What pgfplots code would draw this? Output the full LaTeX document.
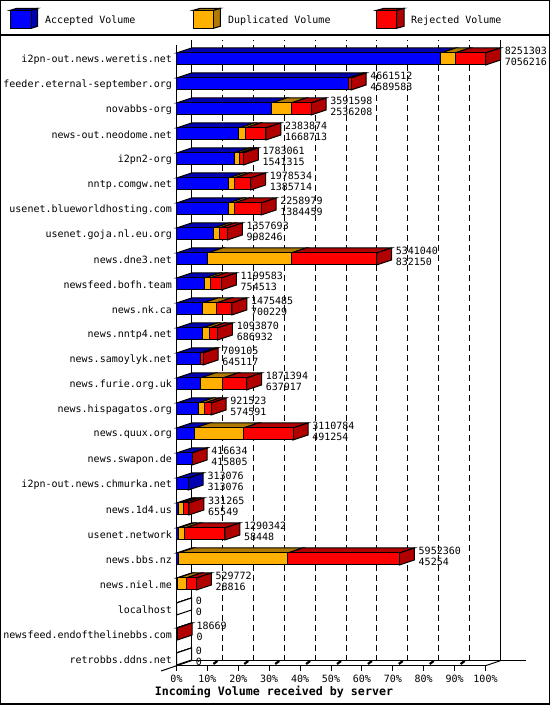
\documentclass[border=0pt]{standalone}
\usepackage{fontspec}
\setmainfont{DejaVu Sans Mono}
\usepackage{pgfplots}
\usepackage{pgfplotstable}
\pgfplotsset{compat=1.18}

\definecolor{blueA}{HTML}{0000FF}
\definecolor{blueB}{HTML}{0000B0}
\definecolor{orangeA}{HTML}{FFB000}
\definecolor{orangeB}{HTML}{B07A00}
\definecolor{redA}{HTML}{FF0000}
\definecolor{redB}{HTML}{B00000}

% duplicated is read off the picture, the other columns are printed in it
\pgfplotstableread{
row name total accepted duplicated rejected
24 i2pn-out.news.weretis.net 8251303 7056216 382000 813087
23 feeder.eternal-september.org 4661512 4589583 0 71929
22 novabbs-org 3591598 2536208 526000 529390
21 news-out.neodome.net 2383874 1668713 166000 549161
20 i2pn2-org 1783061 1541315 141000 100746
19 nntp.comgw.net 1978534 1385714 155000 437820
18 usenet.blueworldhosting.com 2258979 1384459 155000 719520
17 usenet.goja.nl.eu.org 1357693 998246 150000 209447
16 news.dne3.net 5341040 832150 2232000 2276890
15 newsfeed.bofh.team 1199583 754513 150000 295070
14 news.nk.ca 1475485 700229 363000 412256
13 news.nntp4.net 1093870 686932 187000 219938
12 news.samoylyk.net 709105 645117 0 63988
11 news.furie.org.uk 1871394 637917 603000 630477
10 news.hispagatos.org 921523 574591 176000 170932
9 news.quux.org 3110784 491254 1298000 1321530
8 news.swapon.de 416634 415805 0 829
7 i2pn-out.news.chmurka.net 313076 313076 0 0
6 news.1d4.us 331265 65549 117000 148716
5 usenet.network 1290342 58448 168000 1063894
4 news.bbs.nz 5952360 45254 2927000 2980106
3 news.niel.me 529772 28816 232000 268956
2 localhost 0 0 0 0
1 newsfeed.endofthelinebbs.com 18669 0 0 18669
0 retrobbs.ddns.net 0 0 0 0
}\barstable

\pgfplotsset{
  chartaxis/.style={
    at={(176.5bp,39.3bp)}, anchor=south west,
    scale only axis, width=309bp, height=620.7bp,
    xmin=0, xmax=8251303,
    ymin=-0.268, ymax=24.56,
    clip=false,
    line width=1bp,
  },
}

% depth of the 3d effect: 15 px in x, 5 px in y
\newcommand\depth{400549}

% one parallelogram
\newcommand\face[9]{%
  \addplot[fill=#1, draw=black, line width=1bp, mark=none]
    coordinates {(#2,#3) (#4,#5) (#6,#7) (#8,#9)} -- cycle;
}

\begin{document}
\begin{tikzpicture}[font=\fontsize{10bp}{12bp}\selectfont]
\useasboundingbox (0,0) rectangle (550bp,705bp);

% frame and legend, y counted from the top in px
\begin{scope}[x=1bp, y=-1bp, shift={(0,705bp)}, line width=1bp, draw=black]
  \draw[line width=1.5bp] (0.75,0.75) rectangle (549.25,704.25);
  \draw[line width=1.2bp] (0,35) -- (550,35);
  \draw[fill=blueB] (31.3,10.3) -- (37.7,8.3) -- (37.7,26.3) -- (31.3,28.3) -- cycle;
  \draw[fill=blueB] (10.3,10.3) -- (16.7,8.3) -- (37.7,8.3) -- (31.3,10.3) -- cycle;
  \draw[fill=blueA] (10.3,10.3) rectangle (31.3,28.3);
  \node[anchor=west, inner sep=0pt] at (44.7,20.8) {Accepted Volume};
  \draw[fill=orangeB] (213.3,10.3) -- (220.3,8.3) -- (220.3,26.3) -- (213.3,28.3) -- cycle;
  \draw[fill=orangeB] (193.3,10.3) -- (200.3,8.3) -- (220.3,8.3) -- (213.3,10.3) -- cycle;
  \draw[fill=orangeA] (193.3,10.3) rectangle (213.3,28.3);
  \node[anchor=west, inner sep=0pt] at (227.7,20.8) {Duplicated Volume};
  \draw[fill=redB] (396.7,10.3) -- (404,8.3) -- (404,26.3) -- (396.7,28.3) -- cycle;
  \draw[fill=redB] (376.7,10.3) -- (384,8.3) -- (404,8.3) -- (396.7,10.3) -- cycle;
  \draw[fill=redA] (376.7,10.3) rectangle (396.7,28.3);
  \node[anchor=west, inner sep=0pt] at (410.7,20.8) {Rejected Volume};
\end{scope}

% walls, grid, tick labels, tops and sides of the bars, value labels
\begin{axis}[
  chartaxis,
  axis x line=bottom, axis y line=left,
  axis line style={-},
  scaled x ticks=false,
  xtick={0,825130.3,1650260.6,2475390.9,3300521.2,4125651.5,4950781.8,5775912.1,6601042.4,7426172.7,8251303},
  xticklabels={0\%,10\%,20\%,30\%,40\%,50\%,60\%,70\%,80\%,90\%,100\%},
  ytick={24,23,...,0},
  yticklabels from table={\barstable}{name},
  ytick style={draw=none},
  xtick style={black, line width=1bp},
  tick align=outside,
  major tick length=5bp,
  xticklabel style={inner sep=0pt, yshift=-3.5bp},
  yticklabel style={inner sep=0pt, xshift=1bp, yshift=-1bp},
  xlabel={\fontsize{11.63bp}{13bp}\selectfont\bfseries Incoming Volume received by server},
  xlabel style={at={(axis description cs:0.3155,-0.0424)}, anchor=center, inner sep=0pt},
]
% back and right wall, floor
\addplot[black, line width=1bp, mark=none] coordinates {(400549,-0.068) (400549,24.76)};
\addplot[black, line width=1bp, mark=none] coordinates {(8651852,-0.068) (8651852,24.76)};
\addplot[black, line width=1bp, mark=none] coordinates {(400549,-0.068) (9324000,-0.068)};
\addplot[black, line width=1bp, mark=none] coordinates {(-413900,-0.48) (400549,-0.068)};
\addplot[black, line width=1bp, mark=none] coordinates {(8251303,-0.268) (8651852,-0.068)};

\pgfplotsforeachungrouped \k in {1,...,9}{
  \edef\xg{\the\numexpr\k*825130+\depth\relax}
  \addplot[black, line width=1bp, mark=none, dash pattern=on 6bp off 4bp]
    coordinates {(\xg,-0.068) (\xg,24.76)};
  \edef\xs{\the\numexpr\k*825130+160218\relax}
  \edef\xe{\the\numexpr\k*825130+267030\relax}
  \addplot[black, line width=2.2bp, mark=none]
    coordinates {(\xs,-0.2) (\xe,-0.08)};
}

\pgfplotsforeachungrouped \i in {0,...,24}{
  \pgfplotstablegetelem{\i}{row}\of{\barstable}\edef\r{\pgfplotsretval}
  \pgfplotstablegetelem{\i}{accepted}\of{\barstable}\edef\va{\pgfplotsretval}
  \pgfplotstablegetelem{\i}{duplicated}\of{\barstable}\edef\vd{\pgfplotsretval}
  \pgfplotstablegetelem{\i}{rejected}\of{\barstable}\edef\vr{\pgfplotsretval}
  \edef\xa{\va}
  \edef\xb{\the\numexpr\va+\vd\relax}
  \edef\xc{\the\numexpr\va+\vd+\vr\relax}
  \edef\xo{\depth}
  \edef\xaa{\the\numexpr\xa+\depth\relax}
  \edef\xbb{\the\numexpr\xb+\depth\relax}
  \edef\xcc{\the\numexpr\xc+\depth\relax}
  \pgfmathsetmacro\yt{\r+0.24}
  \pgfmathsetmacro\ytt{\r+0.44}
  \pgfmathsetmacro\yb{\r-0.24}
  \pgfmathsetmacro\ybb{\r-0.04}
  \face{blueB}{0}{\yt}{\xa}{\yt}{\xaa}{\ytt}{\xo}{\ytt}
  \face{orangeB}{\xa}{\yt}{\xb}{\yt}{\xbb}{\ytt}{\xaa}{\ytt}
  \face{redB}{\xb}{\yt}{\xc}{\yt}{\xcc}{\ytt}{\xbb}{\ytt}
  \ifnum\vr>0 \def\sidecol{redB}\else
    \ifnum\vd>0 \def\sidecol{orangeB}\else
      \ifnum\va>0 \def\sidecol{blueB}\else \def\sidecol{white}\fi
    \fi
  \fi
  % the fill colour has to be expanded here, plot options are used later
  \expandafter\face\expandafter{\sidecol}{\xc}{\yt}{\xcc}{\ytt}{\xcc}{\ybb}{\xc}{\yb}
}

\addplot[draw=none, mark=none, point meta=explicit symbolic,
  nodes near coords={\pgfplotspointmeta},
  nodes near coords style={anchor=west, inner sep=0pt, text=black, xshift=18.8bp, yshift=8.2bp}]
  table[x=total, y=row, meta=total] {\barstable};
\addplot[draw=none, mark=none, point meta=explicit symbolic,
  nodes near coords={\pgfplotspointmeta},
  nodes near coords style={anchor=west, inner sep=0pt, text=black, xshift=18.8bp, yshift=-2.8bp}]
  table[x=total, y=row, meta=accepted] {\barstable};
\end{axis}

% front faces of the bars
\begin{axis}[
  chartaxis,
  hide axis,
  xbar stacked,
  bar width=12bp,
]
\addplot[fill=blueA, draw=black, line width=1bp] table[x=accepted, y=row] {\barstable};
\addplot[fill=orangeA, draw=black, line width=1bp] table[x=duplicated, y=row] {\barstable};
\addplot[fill=redA, draw=black, line width=1bp] table[x=rejected, y=row] {\barstable};
\end{axis}
\end{tikzpicture}
\end{document}
